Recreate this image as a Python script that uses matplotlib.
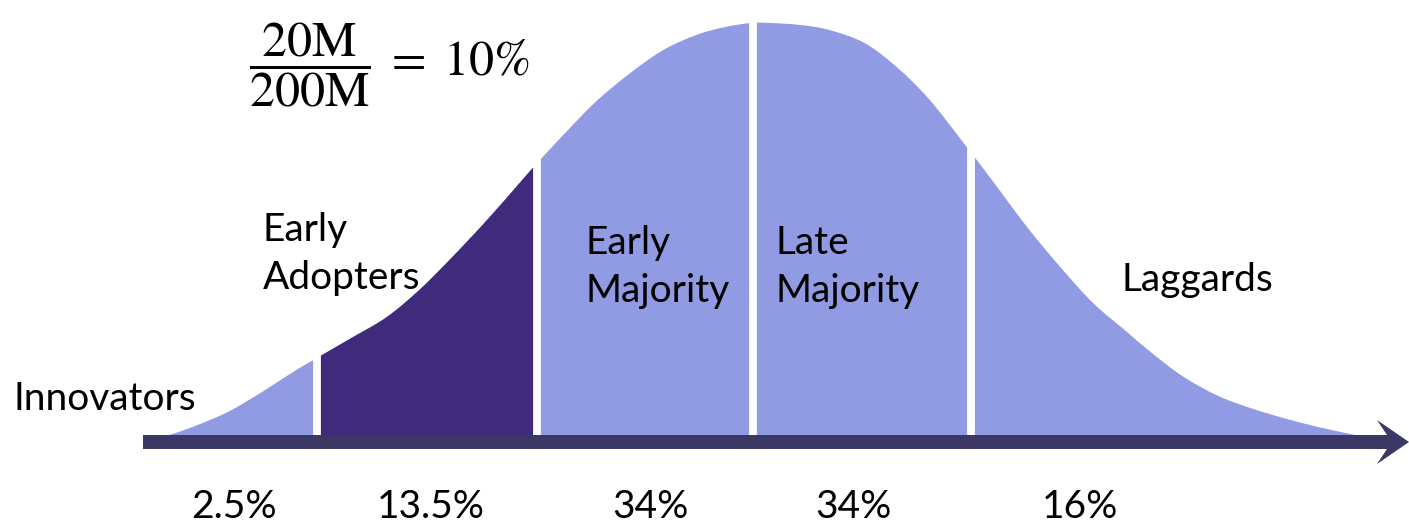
import matplotlib
matplotlib.use("Agg")
import matplotlib.pyplot as plt
from matplotlib.patches import Rectangle, Polygon, PathPatch
from matplotlib.path import Path

# adoption curve: position (std devs from mean), relative height
curve_x = [-2.68, -2.57, -2.41, -2.26, -2.11, -2.01, -1.84, -1.68, -1.53, -1.38,
           -1.22, -1.07, -1.00, -0.87, -0.72, -0.56, -0.41, -0.26, -0.13, -0.01,
           0.08, 0.22, 0.35, 0.51, 0.66, 0.81, 0.98, 1.10, 1.26, 1.41,
           1.56, 1.72, 1.82, 1.97, 2.13, 2.28, 2.43, 2.59, 2.74, 2.78]
curve_h = [0.002, 0.022, 0.058, 0.104, 0.155, 0.186, 0.238, 0.288, 0.354, 0.433,
           0.523, 0.613, 0.655, 0.729, 0.810, 0.880, 0.935, 0.971, 0.990, 1.000,
           1.000, 0.995, 0.983, 0.952, 0.893, 0.814, 0.700, 0.617, 0.504, 0.409,
           0.322, 0.250, 0.205, 0.145, 0.098, 0.068, 0.044, 0.022, 0.005, 0.000]

segments = ["Innovators", "Early\nAdopters", "Early\nMajority", "Late\nMajority", "Laggards"]
shares = ["2.5%", "13.5%", "34%", "34%", "16%"]
dividers = [-2.0, -0.99, 0.0, 1.0]
highlight = 1          # Early Adopters

LIGHT = "#919be3"
DARK = "#3f2a7b"
AXIS = "#3c3866"

# pixel -> data helpers (picture is 1409x529, mean at x=753, baseline y=436)
SIG, X0, Y0, PEAK = 218.0, 753.0, 436.0, 413.0


def px(x, y):
    return ((x - X0) / SIG, (Y0 - y) / PEAK)


def smooth_area(xs, hs):
    """Closed path under the read-off points, drawn with Catmull-Rom bezier pieces."""
    pts = list(zip(xs, hs))
    verts = [(xs[0], 0.0), pts[0]]
    codes = [Path.MOVETO, Path.LINETO]
    n = len(pts)
    for i in range(n - 1):
        p0 = pts[max(i - 1, 0)]
        p1, p2 = pts[i], pts[i + 1]
        p3 = pts[min(i + 2, n - 1)]
        c1 = (p1[0] + (p2[0] - p0[0]) / 6, p1[1] + (p2[1] - p0[1]) / 6)
        c2 = (p2[0] - (p3[0] - p1[0]) / 6, p2[1] - (p3[1] - p1[1]) / 6)
        verts += [c1, c2, p2]
        codes += [Path.CURVE4] * 3
    verts += [(xs[-1], 0.0), (xs[0], 0.0)]
    codes += [Path.LINETO, Path.CLOSEPOLY]
    return Path(verts, codes)


plt.rcParams["mathtext.fontset"] = "stix"

fig = plt.figure(figsize=(14.09, 5.29), dpi=100)
ax = fig.add_axes([0, 0, 1, 1])
ax.set_xlim(px(0, 0)[0], px(1409, 0)[0])
ax.set_ylim(px(0, 529)[1], px(0, 0)[1])
ax.axis("off")

area = smooth_area(curve_x, curve_h)
ax.add_patch(PathPatch(area, fc=LIGHT, lw=0, zorder=1))
dark = ax.add_patch(PathPatch(area, fc=DARK, lw=0, zorder=2))
lo, hi = dividers[highlight - 1], dividers[highlight]
dark.set_clip_path(Rectangle((lo, -0.1), hi - lo, 1.3, transform=ax.transData))

ax.vlines(dividers, 0, 1.05, colors="white", lw=5.6, zorder=3)

arrow = [(143, 435), (1387, 435), (1377, 420), (1409, 442), (1377, 464), (1387, 449), (143, 449)]
ax.add_patch(Polygon([px(*p) for p in arrow], closed=True, color=AXIS, lw=0, zorder=4))

font = dict(family="Lato", fontsize=28, color="black")
label_pos = [(-3.39, 0.09), (-2.25, 0.44), (-0.77, 0.41), (0.105, 0.41), (1.69, 0.378)]
for name, (lx, ly) in zip(segments, label_pos):
    ax.text(lx, ly, name, ha="left", va="center", linespacing=1.42, **font)

share_x = [-2.38, -1.48, -0.47, 0.46, 1.50]
for s, sx in zip(shares, share_x):
    ax.text(sx, -0.172, s, ha="center", va="center", **font)

ax.text(-2.31, 0.90, r"$\dfrac{20\mathrm{M}}{200\mathrm{M}}\;=\;10\%$",
        ha="left", va="center", fontsize=36, color="black")

fig.savefig("out.png", dpi=100)
